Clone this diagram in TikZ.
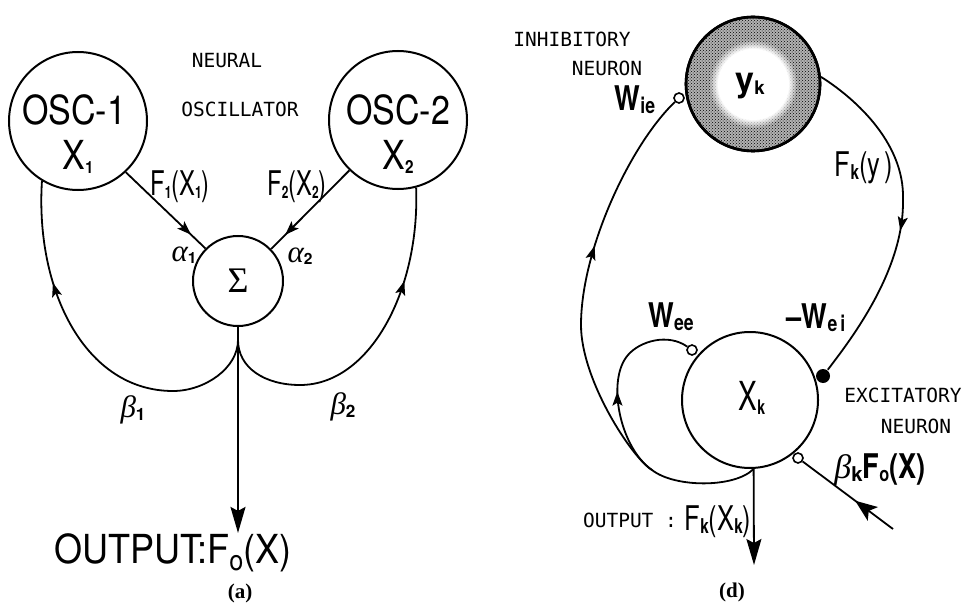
\documentclass[tikz,border=0pt]{standalone}
\usepackage{fontspec}
\setmainfont{Liberation Serif}
\setsansfont{TeX Gyre Heros}
\setmonofont{DejaVu Sans Mono}
\usetikzlibrary{arrows.meta,decorations.markings,patterns,fadings}

% squeezed sans lettering and small bold low indices
\newcommand{\condense}[2][0.85]{\scalebox{#1}[1]{#2}}
\newcommand{\lowidx}[2][0.5]{\raisebox{-0.08em}{\scalebox{#1}{\sffamily\bfseries\upshape #2}}}

\begin{document}
\begin{tikzpicture}[
  x=1pt, y=1pt,
  line width=1.8pt,
  ring/.style={circle, draw, line width=2pt, inner sep=0pt},
  opendot/.style={circle, draw, fill=white, line width=1.6pt, minimum size=10pt, inner sep=0pt},
  soliddot/.style={circle, fill=black, minimum size=14pt, inner sep=0pt},
  tag/.style={font=\fontsize{19.5}{20}\selectfont\ttfamily, inner sep=0pt},
  big/.style={font=\fontsize{40}{42}\selectfont\sffamily, inner sep=0pt},
  mid/.style={font=\fontsize{34}{36}\selectfont\sffamily, inner sep=0pt},
  heavy/.style={font=\fontsize{34}{36}\selectfont\sffamily\bfseries, inner sep=0pt},
  greek/.style={font=\fontsize{31}{32}\selectfont\itshape, inner sep=0pt},
  caption/.style={font=\fontsize{21}{21}\selectfont\bfseries, inner sep=0pt},
  bigarrow/.style={-{Stealth[length=26pt, width=15pt, inset=4pt]}},
  midarrow/.style={postaction={decorate}, decoration={markings,
    mark=at position #1 with {\arrow{Stealth[length=14pt, width=10pt, inset=3pt]}}}},
  inarrow/.style={postaction={decorate}, decoration={markings,
    mark=at position #1 with {\arrow{Stealth[length=22pt, width=17pt, inset=5pt]}}}}
]
\useasboundingbox (0,0) rectangle (963,-604);

% ---- (a) two coupled oscillators ----
\node[ring, minimum size=138pt] (osc1) at (78,-121) {};
\node[ring, minimum size=138pt] (osc2) at (398,-120) {};
\node[ring, minimum size=90pt] (sigma) at (238,-281) {\fontsize{36}{36}\selectfont Σ};

\node[big] (osc1name) at ([xshift=-4pt, yshift=11pt]osc1.center) {\condense{OSC-1}};
\node[big] (osc1var) at ([yshift=-36pt]osc1.center) {\condense{X\lowidx[0.42]{1}}};
\node[big] (osc2name) at ([yshift=10pt]osc2.center) {\condense{OSC-2}};
\node[big] (osc2var) at ([yshift=-37pt]osc2.center) {\condense{X\lowidx[0.45]{2}}};

\node[tag] (neural) at (227,-61) {NEURAL};
\node[tag] (oscillator) at (240,-109) {OSCILLATOR};

\node[mid] (f1) at (180,-187) {\condense[0.7]{F\lowidx{1}(X\lowidx{1})}};
\node[mid] (f2) at (297,-187) {\condense[0.7]{F\lowidx{2}(X\lowidx{2})}};
\node[greek] (alpha1) at (184,-255) {α\lowidx[0.5]{1}};
\node[greek] (alpha2) at (300,-256) {α\lowidx[0.5]{2}};
\node[greek] (beta1) at (133,-410) {β\lowidx[0.55]{1}};
\node[greek] (beta2) at (343,-407) {β\lowidx[0.55]{2}};

\node[big] (outa) at (173,-553) {\condense[0.9]{OUTPUT:F\textsubscript{o}(X)}};
\node[caption] (capa) at (240,-593) {(a)};

\coordinate (merge) at (238,-340);

\draw[midarrow=0.82] (osc1.-47) -- (sigma.135);
\draw[midarrow=0.82] (osc2.-134) -- (sigma.44);
\draw[bigarrow] (sigma.south) -- (sigma.south |- outa.north);
\draw[midarrow=0.72] (merge) .. controls (238,-368) and (205,-391) .. (173,-391)
  .. controls (85,-391) and (35,-290) .. (osc1.-121);
\draw[midarrow=0.72] (merge) .. controls (238,-368) and (265,-385) .. (300,-385)
  .. controls (370,-385) and (420,-290) .. (osc2.-75);

% ---- (d) excitatory / inhibitory pair ----
% dotted grey cell with a white core
\node[ring, minimum size=134pt, line width=2.6pt, fill=black!30] (yk) at (753,-84) {};
\fill[pattern=crosshatch dots] (yk.center) circle[radius=66];
\fill[white, path fading=circle with fuzzy edge 20 percent] (yk.center) circle[radius=44];
\draw[line width=2.6pt] (yk.center) circle[radius=67];
\node[heavy] (yklabel) at (750,-86) {y\lowidx[0.55]{k}};
\node[ring, minimum size=136pt] (xk) at (750,-400) {};
\node[big] (xklabel) at (752,-398) {\condense[0.7]{X\lowidx[0.5]{k}}};

\node[opendot] (wie) at (679,-98) {};
\node[opendot] (wee) at (692,-350) {};
\node[opendot] (inp) at (798,-458) {};
\node[soliddot] (wei) at (823,-376) {};

\node[tag] (inhib) at (572,-39) {INHIBITORY};
\node[tag] (inhib2) at (607,-68) {NEURON};
\node[tag] (excit) at (903,-395) {EXCITATORY};
\node[tag] (excit2) at (916,-426) {NEURON};
\node[tag] (outtag) at (630,-520) {OUTPUT :};

\node[heavy] (wielabel) at (635,-100) {\condense[0.8]{W\lowidx[0.65]{ie}}};
\node[heavy] (weelabel) at (671,-317) {\condense[0.8]{W\lowidx[0.65]{ee}}};
\node[heavy] (weilabel) at (816,-318) {\condense[0.8]{--W\lowidx[0.65]{e\,i}}};
\node[mid] (fky) at (864,-168) {\condense[0.75]{F\lowidx[0.6]{k}(y\,)}};
\node[mid] (fkx) at (718,-522) {\condense[0.75]{F\lowidx[0.6]{k}(X\lowidx[0.6]{k})}};
\node[heavy] (drive) at (880,-470) {{\rmfamily\mdseries\itshape β}\lowidx[0.6]{k}\condense[0.8]{F\lowidx[0.6]{o}(X)}};
\node[caption] (capd) at (732,-592) {(d)};

\coordinate (tap) at (xk.-87);
\coordinate (merge2) at (652,-470);
\coordinate (outd) at (754,-565);
\coordinate (inpsrc) at (893,-529);

\draw[bigarrow] (tap) -- (outd);
\draw[midarrow=0.68] (tap) .. controls (735,-488) and (675,-488) .. (merge2)
  .. controls (632,-458) and (581,-380) .. (581,-325)
  .. controls (581,-250) and (630,-145) .. (wie);
\draw[midarrow=0.46] (merge2) .. controls (620,-448) and (606,-380) .. (628,-355)
  .. controls (640,-341) and (668,-333) .. (wee);
\draw[midarrow=0.54] (yk.6) .. controls (850,-95) and (905,-140) .. (903,-200)
  .. controls (904,-270) and (852,-338) .. (wei);
\draw[inarrow=0.42] (inpsrc) -- (inp);

\end{tikzpicture}
\end{document}
